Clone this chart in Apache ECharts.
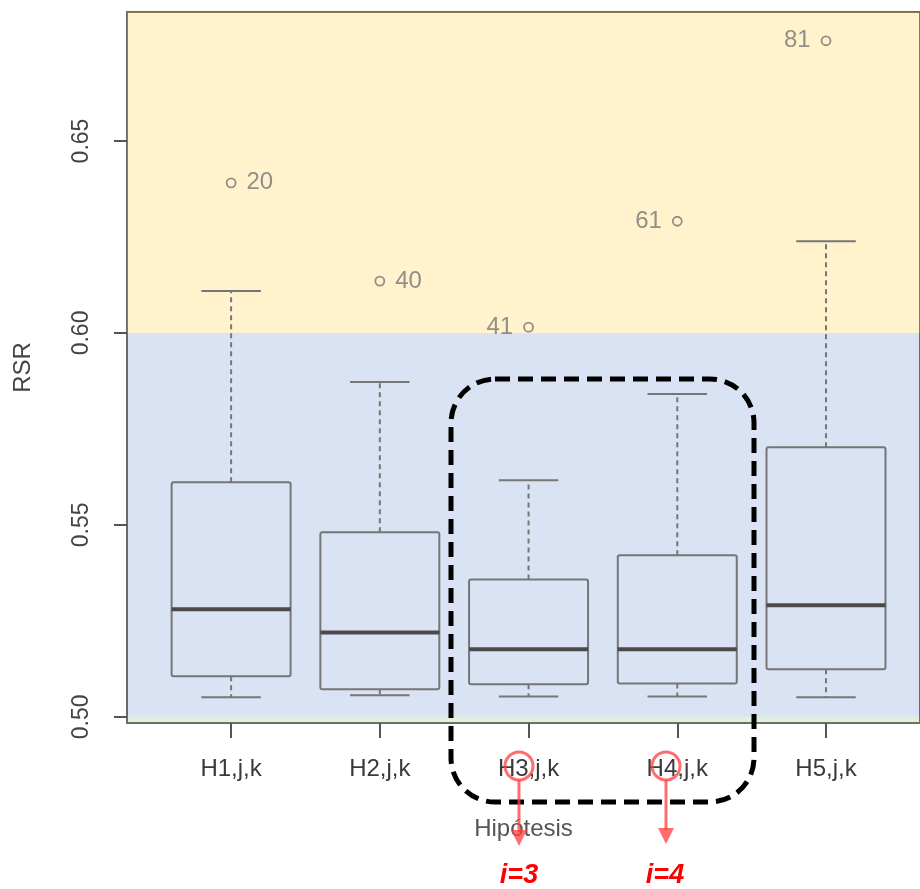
<!DOCTYPE html>
<html>
<head>
<meta charset="utf-8">
<script src="https://cdn.jsdelivr.net/npm/echarts@6/dist/echarts.min.js"></script>
<style>
  html, body { margin: 0; padding: 0; background: #fff; }
  #chart { width: 920px; height: 889px; }
</style>
</head>
<body>
<div id="chart"></div>
<script>
const categories = ['H1,j,k', 'H2,j,k', 'H3,j,k', 'H4,j,k', 'H5,j,k'];
const lowerWhisker = [0.5051, 0.5056, 0.5053, 0.5053, 0.5051];
const q1 = [0.5106, 0.5072, 0.5085, 0.5087, 0.5124];
const medians = [0.5280, 0.5220, 0.5176, 0.5176, 0.5291];
const q3 = [0.5611, 0.5481, 0.5358, 0.5421, 0.5702];
const upperWhisker = [0.6109, 0.5872, 0.5616, 0.5841, 0.6239];
const outlierValues = [0.6391, 0.6135, 0.6015, 0.6291, 0.6761];
const outlierLabels = ['20', '40', '41', '61', '81'];
const outlierSide = ['right', 'right', 'left', 'left', 'left'];
const yTicks = [0.50, 0.55, 0.60, 0.65];
const xTicks = [1, 2, 3, 4, 5];

// plot range (R pads the data range by 4%; the right edge runs off the picture)
const yMin = 0.4984;
const yMax = 0.6836;
const xMin = 0.3;
const xMax = 5.632;
const font = 'Liberation Sans, Arial, sans-serif';
const lineGray = '#767676';
const red = 'rgba(255,60,60,0.75)';

const chart = echarts.init(document.getElementById('chart'));

const boxData = categories.map((c, i) => [
  i + 1, lowerWhisker[i], q1[i], medians[i], q3[i], upperWhisker[i]
]);

function renderBox(params, api) {
  const x = api.value(0);
  const pLow = api.coord([x, api.value(1)]);
  const pQ1 = api.coord([x, api.value(2)]);
  const pMed = api.coord([x, api.value(3)]);
  const pQ3 = api.coord([x, api.value(4)]);
  const pHigh = api.coord([x, api.value(5)]);
  const boxHalf = api.size([0.4, 0])[0];
  const capHalf = api.size([0.2, 0])[0];
  const cx = pMed[0];
  const solid = { stroke: lineGray, lineWidth: 2, fill: null };
  const dashed = { stroke: lineGray, lineWidth: 2, lineDash: [5, 4] };
  return {
    type: 'group',
    children: [
      { type: 'line', shape: { x1: cx, y1: pQ3[1], x2: cx, y2: pHigh[1] }, style: dashed },
      { type: 'line', shape: { x1: cx, y1: pQ1[1], x2: cx, y2: pLow[1] }, style: dashed },
      { type: 'line', shape: { x1: cx - capHalf, y1: pHigh[1], x2: cx + capHalf, y2: pHigh[1] }, style: solid },
      { type: 'line', shape: { x1: cx - capHalf, y1: pLow[1], x2: cx + capHalf, y2: pLow[1] }, style: solid },
      { type: 'rect', shape: { x: cx - boxHalf, y: pQ3[1], width: boxHalf * 2, height: pQ1[1] - pQ3[1], r: 2 }, style: solid },
      { type: 'line', shape: { x1: cx - boxHalf, y1: pMed[1], x2: cx + boxHalf, y2: pMed[1] }, style: { stroke: '#4a4a4a', lineWidth: 4 } }
    ]
  };
}

const option = {
  backgroundColor: '#fff',
  animation: false,
  grid: {
    left: 127,
    top: 12,
    right: 0,
    bottom: 166,
    show: true,
    backgroundColor: '#fff',
    borderColor: '#6a6a6a',
    borderWidth: 2
  },
  xAxis: {
    type: 'value',
    min: xMin,
    max: xMax,
    splitLine: { show: false },
    axisLine: { show: false },
    axisTick: {
      show: true,
      customValues: xTicks,
      length: 15,
      lineStyle: { color: '#555', width: 2 }
    },
    axisLabel: {
      customValues: xTicks,
      formatter: v => categories[Math.round(v) - 1],
      margin: 34,
      fontSize: 24,
      color: '#3a3a3a',
      fontFamily: font
    },
    name: 'Hipótesis',
    nameLocation: 'middle',
    nameGap: 94,
    nameTextStyle: { fontSize: 24, color: '#555', fontFamily: font }
  },
  yAxis: {
    type: 'value',
    min: yMin,
    max: yMax,
    splitLine: { show: false },
    axisLine: { show: false },
    axisTick: {
      show: true,
      customValues: yTicks,
      length: 13,
      lineStyle: { color: '#555', width: 2 }
    },
    axisLabel: {
      customValues: yTicks,
      formatter: v => v.toFixed(2),
      rotate: 90,
      margin: 34,
      fontSize: 23,
      color: '#444',
      fontFamily: font
    },
    name: 'RSR',
    nameLocation: 'middle',
    nameRotate: 90,
    nameGap: 92,
    nameTextStyle: { fontSize: 24, color: '#444', fontFamily: font }
  },
  series: [
    {
      type: 'custom',
      z: 2,
      renderItem: renderBox,
      encode: { x: 0, y: [1, 2, 3, 4, 5] },
      data: boxData
    },
    {
      type: 'scatter',
      z: 3,
      symbol: 'circle',
      symbolSize: 9,
      itemStyle: { color: 'rgba(0,0,0,0)', borderColor: lineGray, borderWidth: 1.8 },
      data: outlierValues.map((v, i) => ({
        value: [i + 1, v],
        label: {
          show: true,
          position: outlierSide[i],
          distance: 10,
          formatter: outlierLabels[i],
          fontSize: 24,
          color: lineGray,
          fontFamily: font
        }
      }))
    },
    {
      // translucent colour bands laid over the plot
      type: 'line',
      z: 10,
      data: [],
      silent: true,
      markArea: {
        silent: true,
        data: [
          [{ yAxis: 0.60, itemStyle: { color: 'rgba(255,192,0,0.2)' } }, { yAxis: yMax }],
          [{ yAxis: 0.50, itemStyle: { color: 'rgba(68,114,196,0.2)' } }, { yAxis: 0.60 }],
          [{ yAxis: yMin, itemStyle: { color: 'rgba(112,173,71,0.2)' } }, { yAxis: 0.50 }]
        ]
      }
    }
  ],
  graphic: [
    {
      type: 'rect',
      z: 100,
      shape: { x: 451, y: 379, width: 303, height: 423, r: 44 },
      style: { fill: null, stroke: '#000', lineWidth: 5, lineDash: [15, 8] }
    },
    {
      type: 'circle',
      z: 100,
      shape: { cx: 519, cy: 766, r: 14 },
      style: { fill: null, stroke: red, lineWidth: 3 }
    },
    {
      type: 'circle',
      z: 100,
      shape: { cx: 666, cy: 766, r: 14 },
      style: { fill: null, stroke: red, lineWidth: 3 }
    },
    {
      type: 'line',
      z: 100,
      shape: { x1: 519, y1: 780, x2: 519, y2: 832 },
      style: { stroke: red, lineWidth: 3 }
    },
    {
      type: 'polygon',
      z: 100,
      shape: { points: [[511, 830], [527, 830], [519, 846]] },
      style: { fill: red }
    },
    {
      type: 'line',
      z: 100,
      shape: { x1: 666, y1: 780, x2: 666, y2: 830 },
      style: { stroke: red, lineWidth: 3 }
    },
    {
      type: 'polygon',
      z: 100,
      shape: { points: [[658, 828], [674, 828], [666, 844]] },
      style: { fill: red }
    },
    {
      type: 'text',
      z: 100,
      x: 519,
      y: 876,
      style: {
        text: 'i=3', fill: '#ff0000', fontSize: 27, fontWeight: 'bold', fontStyle: 'italic',
        fontFamily: font, align: 'center', verticalAlign: 'middle'
      }
    },
    {
      type: 'text',
      z: 100,
      x: 665,
      y: 876,
      style: {
        text: 'i=4', fill: '#ff0000', fontSize: 27, fontWeight: 'bold', fontStyle: 'italic',
        fontFamily: font, align: 'center', verticalAlign: 'middle'
      }
    }
  ]
};

chart.setOption(option);
</script>
</body>
</html>
